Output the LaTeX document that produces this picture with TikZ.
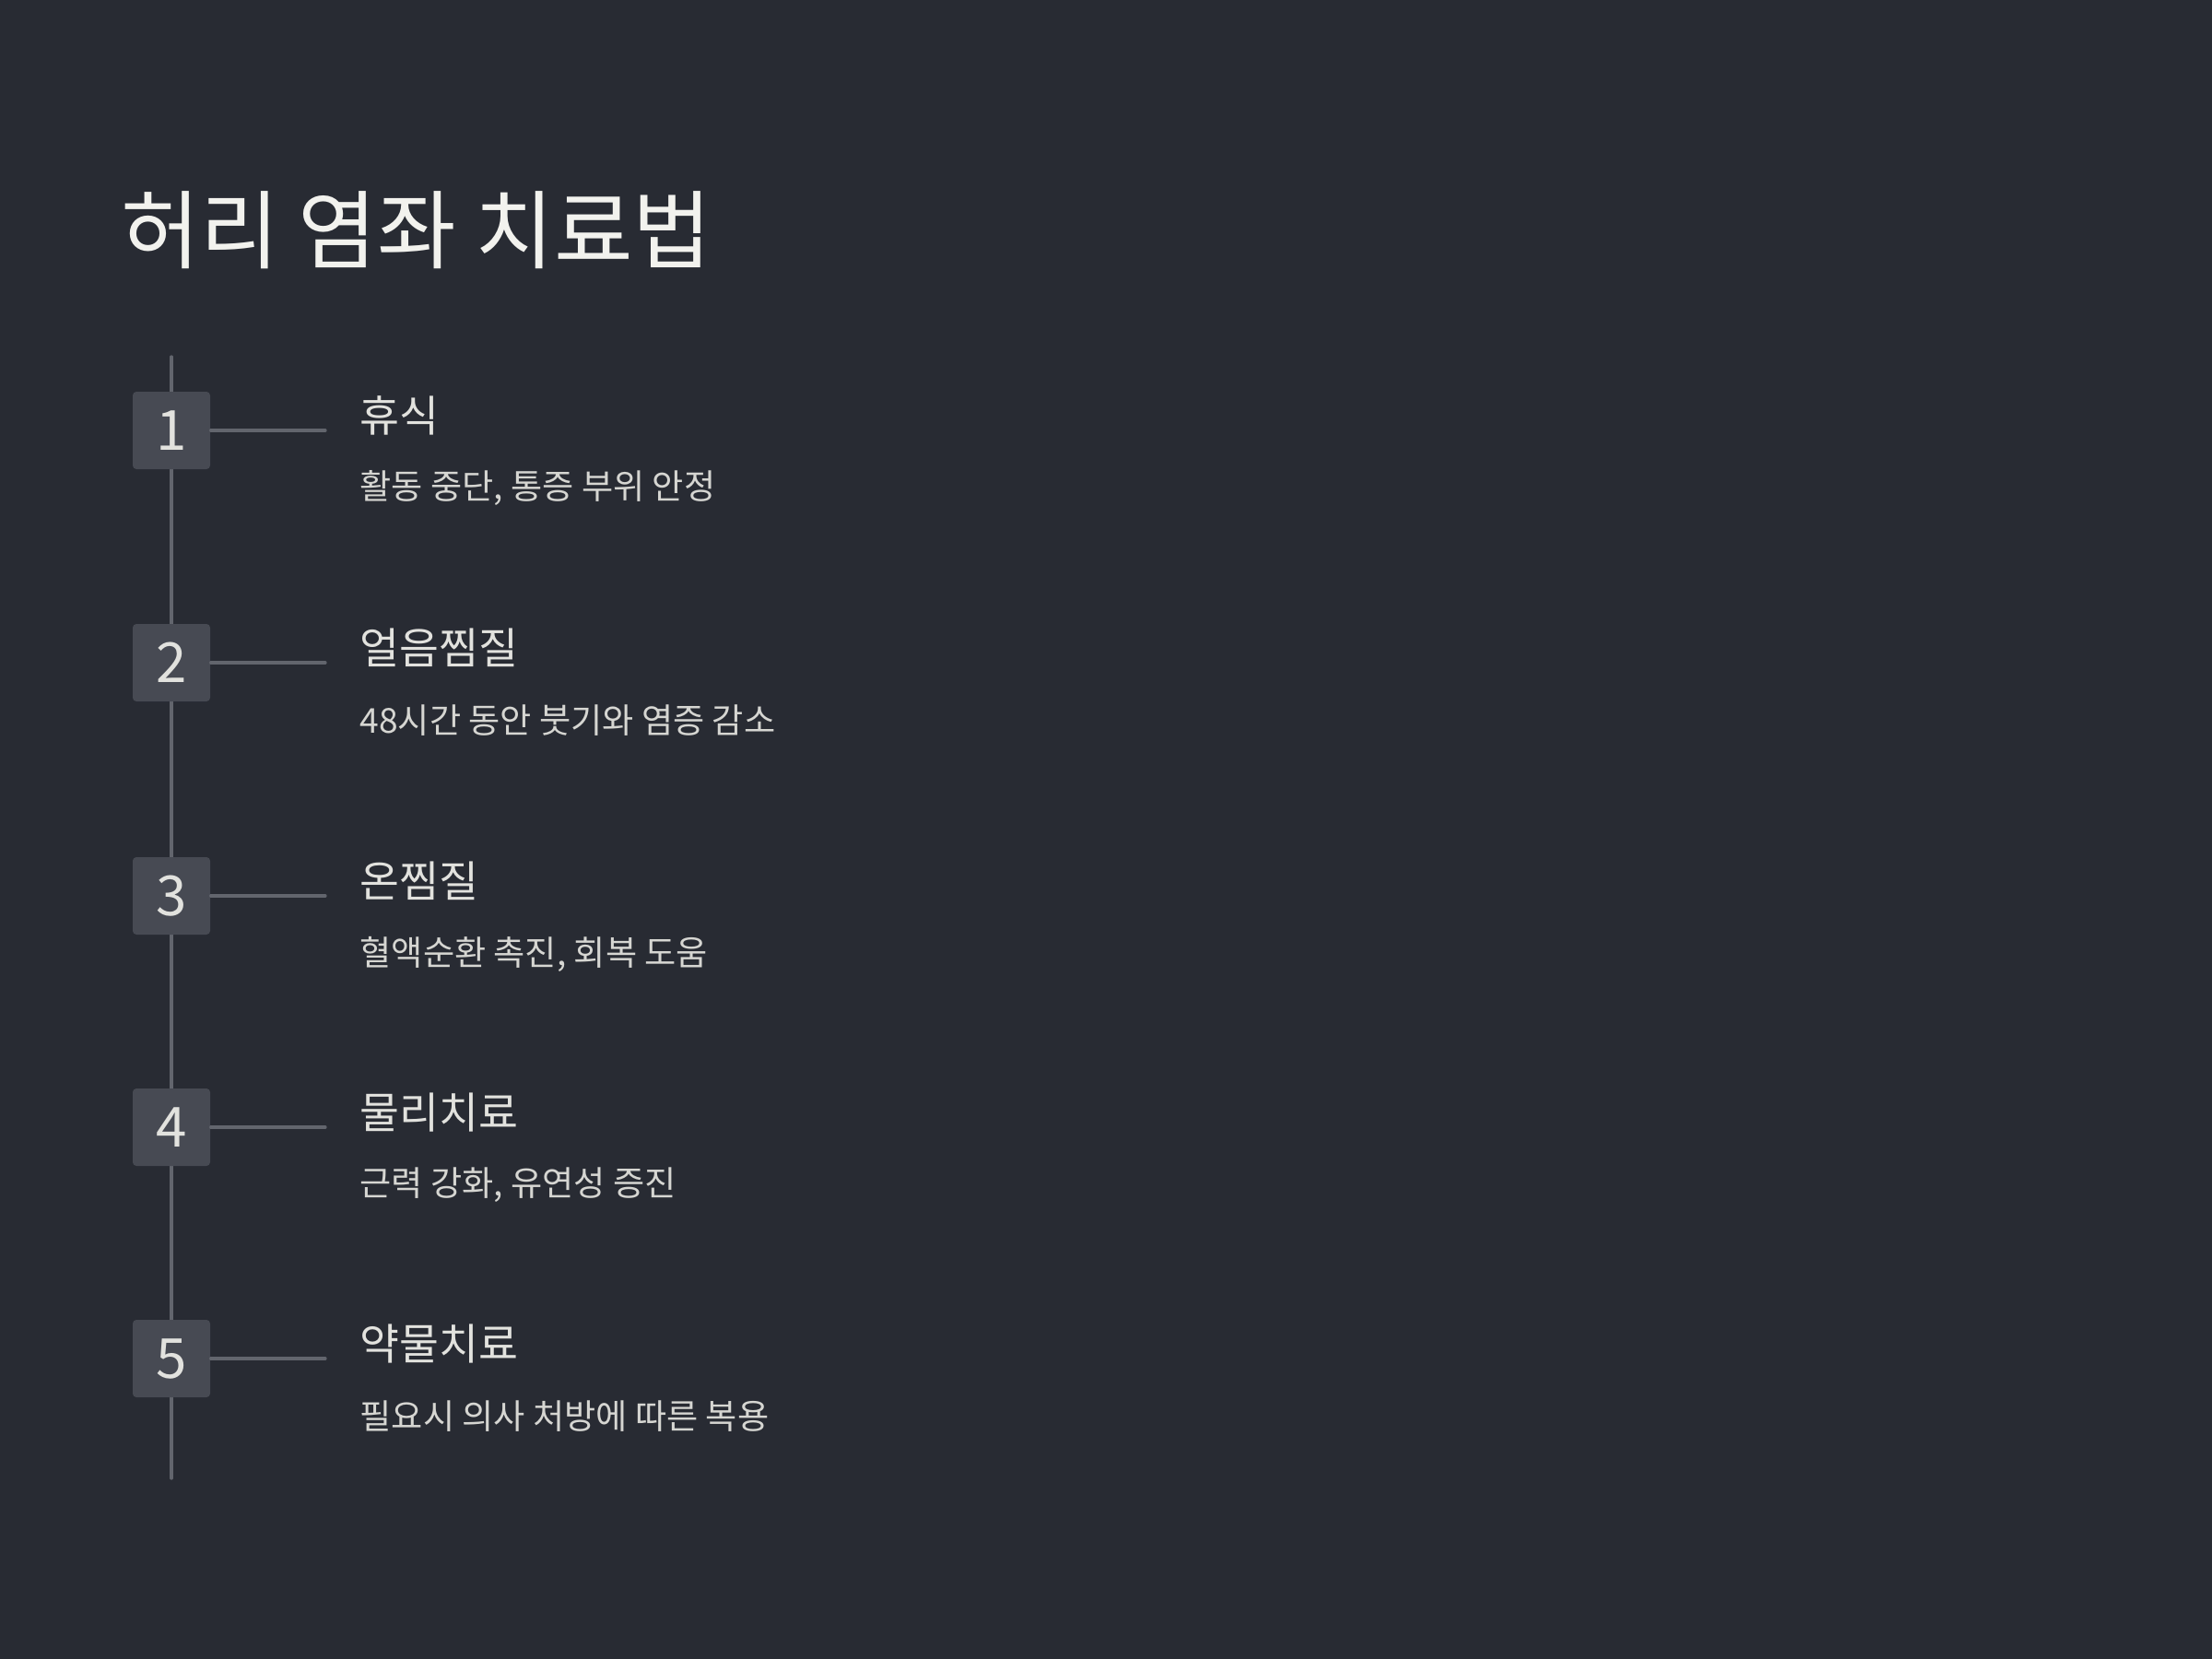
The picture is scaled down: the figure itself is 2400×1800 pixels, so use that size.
\documentclass[tikz,border=0pt]{standalone}
\usepackage{fontspec}
\setmainfont{Noto Sans CJK KR}
\definecolor{bg}{HTML}{282B33}
\definecolor{linec}{HTML}{62656D}
\definecolor{boxc}{HTML}{474A53}
\definecolor{titlec}{HTML}{F2F2EE}
\definecolor{headc}{HTML}{E2E2DE}
\definecolor{subc}{HTML}{D6D6D2}
\begin{document}
\begin{tikzpicture}[x=0.3pt,y=-0.3pt,
  numbox/.style={fill=boxc,rounded corners=1.2pt,minimum width=25.2pt,minimum height=25.2pt,inner sep=0pt,text=headc,font=\fontsize{18}{21}\selectfont},
  headtxt/.style={anchor=west,inner sep=0pt,text=headc,font=\fontsize{14}{16}\selectfont},
  subtxt/.style={anchor=west,inner sep=0pt,text=subc,font=\fontsize{11.15}{13}\selectfont},
  conn/.style={draw=linec,line width=1pt,line cap=round}]
\fill[bg] (0,0) rectangle (2400,1800);
\useasboundingbox (0,0) rectangle (2400,1800);
\node[anchor=west,inner sep=0pt,text=titlec,font=\fontsize{27.9}{32}\selectfont] (title) at (131,250) {허리 염좌 치료법};
\coordinate (ltop) at (186,387);
\coordinate (lbot) at (186,1604);
\draw[conn] (ltop) -- (lbot);
\foreach \i/\y/\h/\s in {1/467/휴식/{활동 중단, 통증 부위 안정},
                         2/719/얼음찜질/{48시간 동안 붓기와 염증 감소},
                         3/972/온찜질/{혈액순환 촉진, 회복 도움},
                         4/1223/물리치료/{근력 강화, 유연성 증진},
                         5/1474/약물치료/{필요시 의사 처방에 따른 복용}}{
  \node[numbox] (b\i) at (186,\y) {\i};
  \coordinate (e\i) at (353,\y);
  \draw[conn] (b\i.east) -- (e\i);
  \node[headtxt] (h\i) at (390,\y-16) {\h};
  \node[subtxt] (s\i) at (390,\y+63) {\s};
}
\end{tikzpicture}
\end{document}
